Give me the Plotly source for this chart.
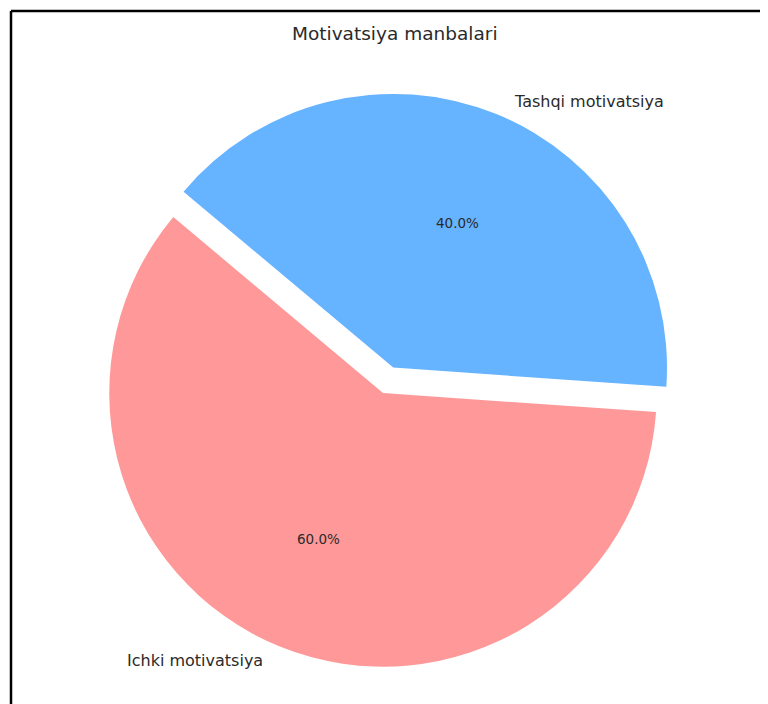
import numpy as np
import plotly.graph_objects as go

labels = ["Ichki motivatsiya", "Tashqi motivatsiya"]
values = [60, 40]
colors = ["#ff9999", "#66b3ff"]
pulls = [0.0, 0.1]
title_text = "Motivatsiya manbalari"

OFF = 8                    # browser body margin
W, H = 768 - OFF, 704 - OFF
CX, CY = 383 - OFF, 393 - OFF   # pie centre in pixels
RX, RY = 286, 262          # apparent (stretched) radii in the reference
R = float(np.sqrt(RX * RY))     # pie radius in pixels
START = 140                # start angle (deg, ccw from +x), matplotlib style

total = sum(values)
# plotly (ccw): first slice's ccw-most edge sits at `rotation` (cw from 12 o'clock)
rotation = 90 - (START + 360 * values[0] / total)

box = 2 * R * (1 + max(pulls))
dom_x = [(CX - box / 2) / W, (CX + box / 2) / W]
dom_y = [1 - (CY + box / 2) / H, 1 - (CY - box / 2) / H]

fig = go.Figure(go.Pie(
    labels=labels, values=values, sort=False, direction="counterclockwise",
    rotation=rotation, pull=pulls,
    marker=dict(colors=colors, line=dict(width=0)),
    textinfo="none", showlegend=False, hoverinfo="label+percent",
    domain=dict(x=dom_x, y=dom_y),
))

ann = []
ang = START
for lab, v, p in zip(labels, values, pulls):
    frac = v / total
    mid = np.deg2rad(ang + 360 * frac / 2)
    ang += 360 * frac
    c, s = np.cos(mid), np.sin(mid)
    ox, oy = CX + p * RX * c, CY - p * RY * s
    ann.append(dict(x=(ox + 0.6 * RX * c) / W, y=1 - (oy - 0.6 * RY * s) / H,
                    xref="paper", yref="paper", showarrow=False,
                    text=f"{100 * frac:.1f}%", xanchor="center", yanchor="middle",
                    font=dict(family="DejaVu Sans", size=13.5, color="#2a2a2a")))
    ann.append(dict(x=(ox + 1.1 * RX * c) / W, y=1 - (oy - 1.1 * RY * s) / H,
                    xref="paper", yref="paper", showarrow=False, text=lab,
                    xanchor="left" if c >= 0 else "right", yanchor="middle",
                    font=dict(family="DejaVu Sans", size=16, color="#2a2a2a")))

ann.append(dict(x=(395 - OFF) / W, y=1 - (33 - OFF) / H, xref="paper", yref="paper",
                showarrow=False, text=title_text, xanchor="center", yanchor="middle",
                font=dict(family="DejaVu Sans", size=18.5, color="#2a2a2a")))

LX, LY = 11 - OFF, 11 - OFF
fig.update_layout(
    width=W, height=H, margin=dict(l=0, r=0, t=0, b=0),
    paper_bgcolor="white", plot_bgcolor="white",
    annotations=ann,
    shapes=[
        dict(type="line", xref="paper", yref="paper", x0=LX / W, x1=LX / W,
             y0=-0.02, y1=1 - LY / H, line=dict(color="black", width=2.5)),
        dict(type="line", xref="paper", yref="paper", x0=LX / W, x1=1.02,
             y0=1 - LY / H, y1=1 - LY / H, line=dict(color="black", width=2.5)),
    ],
)
fig.write_html("out.html")
